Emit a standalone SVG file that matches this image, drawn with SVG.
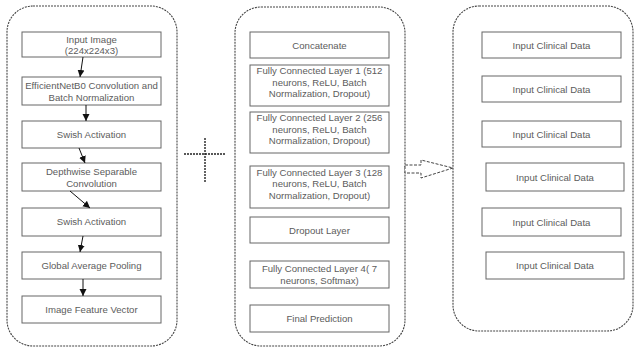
<svg xmlns="http://www.w3.org/2000/svg" width="635" height="350" viewBox="0 0 635 350">
  <defs>
    <marker id="ah" markerWidth="8" markerHeight="8" refX="7" refY="4" orient="auto" markerUnits="userSpaceOnUse">
      <path d="M0,0.5 L7,4 L0,7.5 Z" fill="#111"/>
    </marker>
    <style>
      .panel { fill: #fff; stroke: #444; stroke-width: 1.1; stroke-dasharray: 2 1; }
      .box { fill: #fff; stroke: #666; stroke-width: 1; }
      .lbl { font-family: "Liberation Sans", Arial, sans-serif; font-size: 9.6px; fill: #5c5c5c; text-anchor: middle; }
      .link { fill: none; stroke: #111; stroke-width: 1; marker-end: url(#ah); }
      .sym { fill: none; stroke: #222; stroke-width: 1.4; stroke-dasharray: 2 1; }
      .bigarrow { fill: #fff; stroke: #444; stroke-width: 1; stroke-dasharray: 3 1.5; }
    </style>
  </defs>
  <rect width="635" height="350" fill="#fff"/>

  <!-- three panels -->
  <g id="panel-image">
    <rect class="panel" x="7" y="6" width="170" height="340" rx="26" ry="26"/>
  </g>
  <g id="panel-fusion">
    <rect class="panel" x="235" y="7" width="170" height="339" rx="26" ry="26"/>
  </g>
  <g id="panel-clinical">
    <rect class="panel" x="453" y="6" width="180" height="325" rx="26" ry="26"/>
  </g>

  <!-- image branch -->
  <g id="input-image">
    <rect class="box" x="22" y="32" width="139" height="25"/>
    <text class="lbl" x="91.5" y="42.5">Input Image</text>
    <text class="lbl" x="91.5" y="54">(224x224x3)</text>
  </g>
  <g id="effnet-conv">
    <rect class="box" x="22" y="77" width="139" height="28"/>
    <text class="lbl" x="91.5" y="88.5">EfficientNetB0 Convolution and</text>
    <text class="lbl" x="91.5" y="100.5">Batch Normalization</text>
  </g>
  <g id="swish-1">
    <rect class="box" x="22" y="121" width="139" height="27"/>
    <text class="lbl" x="91.5" y="138">Swish Activation</text>
  </g>
  <g id="depthwise">
    <rect class="box" x="22" y="163" width="139" height="28"/>
    <text class="lbl" x="91.5" y="174.5">Depthwise Separable</text>
    <text class="lbl" x="91.5" y="186.5">Convolution</text>
  </g>
  <g id="swish-2">
    <rect class="box" x="22" y="208" width="139" height="28"/>
    <text class="lbl" x="91.5" y="225">Swish Activation</text>
  </g>
  <g id="global-pool">
    <rect class="box" x="22" y="252" width="139" height="27"/>
    <text class="lbl" x="91.5" y="269">Global Average Pooling</text>
  </g>
  <g id="feature-vector">
    <rect class="box" x="22" y="296" width="139" height="27"/>
    <text class="lbl" x="91.5" y="313">Image Feature Vector</text>
  </g>

  <!-- fusion head -->
  <g id="concatenate">
    <rect class="box" x="250" y="32" width="139" height="26"/>
    <text class="lbl" x="319.5" y="48.5">Concatenate</text>
  </g>
  <g id="fc1">
    <rect class="box" x="250" y="65" width="139" height="41"/>
    <text class="lbl" x="319.5" y="74">Fully Connected Layer 1 (512</text>
    <text class="lbl" x="319.5" y="85.5">neurons, ReLU, Batch</text>
    <text class="lbl" x="319.5" y="97">Normalization, Dropout)</text>
  </g>
  <g id="fc2">
    <rect class="box" x="250" y="112" width="139" height="41"/>
    <text class="lbl" x="319.5" y="121">Fully Connected Layer 2 (256</text>
    <text class="lbl" x="319.5" y="132.5">neurons, ReLU, Batch</text>
    <text class="lbl" x="319.5" y="144">Normalization, Dropout)</text>
  </g>
  <g id="fc3">
    <rect class="box" x="250" y="166" width="139" height="42"/>
    <text class="lbl" x="319.5" y="175.5">Fully Connected Layer 3 (128</text>
    <text class="lbl" x="319.5" y="187">neurons, ReLU, Batch</text>
    <text class="lbl" x="319.5" y="198.5">Normalization, Dropout)</text>
  </g>
  <g id="dropout">
    <rect class="box" x="250" y="217" width="139" height="26"/>
    <text class="lbl" x="319.5" y="233.5">Dropout Layer</text>
  </g>
  <g id="fc4">
    <rect class="box" x="250" y="261" width="139" height="27"/>
    <text class="lbl" x="319.5" y="272">Fully Connected Layer 4( 7</text>
    <text class="lbl" x="319.5" y="284">neurons, Softmax)</text>
  </g>
  <g id="final-prediction">
    <rect class="box" x="250" y="305" width="139" height="27"/>
    <text class="lbl" x="319.5" y="321.5">Final Prediction</text>
  </g>

  <!-- clinical inputs -->
  <g id="clinical-1">
    <rect class="box" x="482" y="32" width="139" height="26"/>
    <text class="lbl" x="551.5" y="48.5">Input Clinical Data</text>
  </g>
  <g id="clinical-2">
    <rect class="box" x="482" y="76" width="139" height="26"/>
    <text class="lbl" x="551.5" y="92.5">Input Clinical Data</text>
  </g>
  <g id="clinical-3">
    <rect class="box" x="482" y="121" width="139" height="26"/>
    <text class="lbl" x="551.5" y="137.5">Input Clinical Data</text>
  </g>
  <g id="clinical-4">
    <rect class="box" x="486" y="163" width="138" height="28"/>
    <text class="lbl" x="555" y="180.5">Input Clinical Data</text>
  </g>
  <g id="clinical-5">
    <rect class="box" x="482" y="208" width="139" height="28"/>
    <text class="lbl" x="551.5" y="225.5">Input Clinical Data</text>
  </g>
  <g id="clinical-6">
    <rect class="box" x="486" y="252" width="138" height="27"/>
    <text class="lbl" x="555" y="269">Input Clinical Data</text>
  </g>

  <!-- connectors -->
  <g id="connectors">
    <line class="link" x1="83" y1="57" x2="80" y2="77"/>
    <line class="link" x1="86" y1="105" x2="86" y2="121"/>
    <line class="link" x1="79" y1="148" x2="85" y2="163"/>
    <line class="link" x1="70" y1="191" x2="90" y2="208"/>
    <line class="link" x1="83" y1="236" x2="80" y2="252"/>
    <line class="link" x1="83" y1="279" x2="83" y2="296"/>
    <!-- plus sign joining the branches -->
    <line class="sym" x1="184" y1="154" x2="226" y2="154"/>
    <line class="sym" x1="205" y1="138" x2="205" y2="183"/>
    <!-- hollow block arrow from clinical panel to fusion panel -->
    <polygon class="bigarrow" points="405,165 421,165 421,160 453,168 421,178 421,173 405,173"/>
  </g>
</svg>
